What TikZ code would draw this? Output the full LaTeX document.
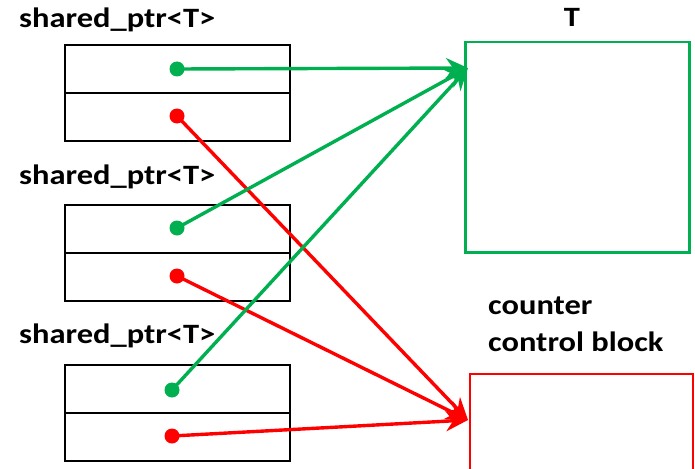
\documentclass[tikz,border=0pt]{standalone}
\usepackage{fontspec}
\setmainfont{Carlito}[FakeStretch=1.16]
\usetikzlibrary{arrows.meta}
\definecolor{pgreen}{RGB}{0,176,80}
\definecolor{pred}{RGB}{255,0,0}
\tikzset{
  cell/.style={draw=black, line width=2pt, minimum width=225pt, minimum height=48pt, inner sep=0pt, anchor=north west},
  lbl/.style={font=\fontsize{28}{32}\selectfont\bfseries, inner sep=0pt},
  dotg/.style={circle, fill=pgreen, minimum size=15pt, inner sep=0pt},
  dotr/.style={circle, fill=pred, minimum size=15pt, inner sep=0pt},
  ptrg/.style={draw=pgreen, line width=3.4pt, -{Stealth[length=22pt,width=20pt]}},
  ptrr/.style={draw=pred, line width=3.4pt, -{Stealth[length=22pt,width=20pt]}},
}
\begin{document}
\begin{tikzpicture}[x=1pt,y=-1pt]
\useasboundingbox (0,0) rectangle (695,468);
% labels
\node[lbl, anchor=west] (l1) at (19,20) {shared\_ptr<T>};
\node[lbl, anchor=west] (l2) at (19,177) {shared\_ptr<T>};
\node[lbl, anchor=west] (l3) at (19,336) {shared\_ptr<T>};
% boxes
\node[cell] (a1) at (64,44) {};
\node[cell] (b1) at (64,92) {};
\node[cell] (a2) at (64,204) {};
\node[cell] (b2) at (64,252) {};
\node[cell] (a3) at (64,364) {};
\node[cell] (b3) at (64,412) {};
% targets
\node[draw=pgreen, line width=2.5pt, minimum width=224pt, minimum height=210pt, inner sep=0pt, anchor=north west] (T) at (464,41) {};
\node[lbl] (tl) at (572,17) {T};
\node[draw=pred, line width=2pt, minimum width=223pt, minimum height=110pt, inner sep=0pt, anchor=north west] (C) at (469,373) {};
\node[lbl, anchor=west] (cl1) at (488,306) {counter};
\node[lbl, anchor=west] (cl2) at (488,342) {control block};
\coordinate (tin) at (468,68);
\coordinate (cin) at (468,420);
% dots
\node[dotg] (g1) at (177,69) {};
\node[dotr] (r1) at (177,116) {};
\node[dotg] (g2) at (177,228) {};
\node[dotr] (r2) at (177,276) {};
\node[dotg] (g3) at (172,390) {};
\node[dotr] (r3) at (172,436) {};
% pointers
\draw[ptrr] (r1.center) -- (cin);
\draw[ptrr] (r2.center) -- (cin);
\draw[ptrr] (r3.center) -- (cin);
\draw[ptrg] (g1.center) -- (tin);
\draw[ptrg] (g2.center) -- (tin);
\draw[ptrg] (g3.center) -- (tin);
\end{tikzpicture}
\end{document}
